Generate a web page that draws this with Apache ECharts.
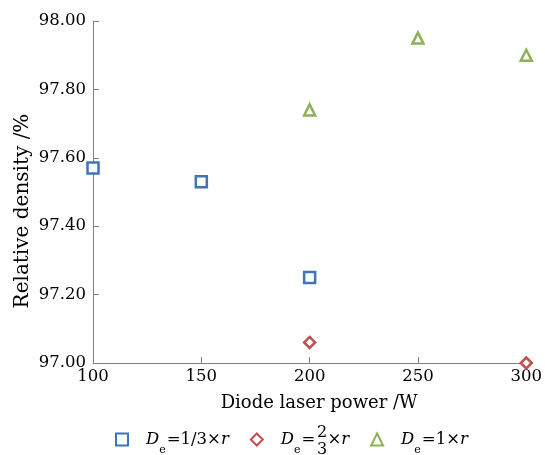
<!DOCTYPE html>
<html><head><meta charset="utf-8">
<script src="https://cdn.jsdelivr.net/npm/echarts@6/dist/echarts.min.js"></script>
<style>html,body{margin:0;padding:0;background:#fff}#c{width:545px;height:455px}</style>
</head><body><div id="c"></div>
<script>
// ---- data ----
const xTicks = [100, 150, 200, 250, 300];
const yTicks = [97.00, 97.20, 97.40, 97.60, 97.80, 98.00];
const seriesNames = ['De=1/3×r', 'De=2/3×r', 'De=1×r'];
const third = [[100, 97.57], [150, 97.53], [200, 97.25]];
const twoThird = [[200, 97.06], [300, 97.00]];
const one = [[200, 97.74], [250, 97.95], [300, 97.90]];
const xName = 'Diode laser power /W';
const yName = 'Relative density /%';
const fracNum = '2', fracDen = '3';

const colors = ['#3f74b9', '#c0504d', '#8cb157'];
const serif = 'DejaVu Serif';
const ink = '#000';
const legendRich = {
  i: {fontFamily: serif, fontStyle: 'italic', fontSize: 16.5, color: ink, lineHeight: 32, verticalAlign: 'middle'},
  n: {fontFamily: serif, fontSize: 16.5, color: ink, lineHeight: 32, verticalAlign: 'middle'},
  sub: {fontFamily: serif, fontSize: 11, color: ink, lineHeight: 32, verticalAlign: 'bottom', padding: [0, 1, 0, 0]},
  gap: {fontFamily: serif, fontSize: 16.5, lineHeight: 32, width: 12}
};
const legendText = {
  'De=1/3×r': '{i|D}{sub|e}{n|=1/3×}{i|r}',
  'De=2/3×r': '{i|D}{sub|e}{n|=}{gap| }{n|×}{i|r}',
  'De=1×r': '{i|D}{sub|e}{n|=1×}{i|r}'
};
const symbols = ['rect', 'diamond', 'triangle'];
const datas = [third, twoThird, one];

const chart = echarts.init(document.getElementById('c'), null, {renderer: 'canvas'});
chart.setOption({
  animation: false,
  backgroundColor: '#fff',
  grid: {left: 93, right: 17, top: 21, bottom: 92, containLabel: false},
  xAxis: {
    type: 'value', min: xTicks[0], max: xTicks[xTicks.length - 1], interval: 50,
    name: xName, nameLocation: 'middle', nameGap: 31, nameMoveOverlap: false,
    nameTextStyle: {fontFamily: serif, fontSize: 18, color: ink, padding: [0, 0, 0, 19]},
    axisLine: {show: true, lineStyle: {color: '#808080', width: 1}},
    axisTick: {show: true, inside: true, length: 6, lineStyle: {color: '#808080'}},
    axisLabel: {fontFamily: serif, fontSize: 16.5, color: ink, margin: 5},
    splitLine: {show: false}
  },
  yAxis: {
    type: 'value', min: yTicks[0], max: yTicks[yTicks.length - 1], interval: 0.2,
    name: yName, nameLocation: 'middle', nameGap: 60, nameRotate: 90, nameMoveOverlap: false,
    nameTextStyle: {fontFamily: serif, fontSize: 20, color: ink, padding: [0, 38, 0, 0]},
    axisLine: {show: true, lineStyle: {color: '#808080', width: 1}},
    axisTick: {show: true, inside: true, length: 6, lineStyle: {color: '#808080'}},
    axisLabel: {fontFamily: serif, fontSize: 16.5, color: ink, margin: 7, formatter: v => v.toFixed(2)},
    splitLine: {show: false}
  },
  legend: {
    top: 431, left: 115, padding: 0, itemWidth: 12, itemHeight: 12, itemGap: 21,
    data: seriesNames,
    formatter: n => legendText[n],
    textStyle: {rich: legendRich, padding: [0, 0, 0, 13]}
  },
  graphic: [
    {type: 'text', left: 317, top: 425, style: {text: fracNum, fontFamily: serif, fontSize: 16, fill: ink}},
    {type: 'text', left: 317, top: 442, style: {text: fracDen, fontFamily: serif, fontSize: 16, fill: ink}}
  ],
  series: seriesNames.map((nm, k) => ({
    name: nm, type: 'scatter', data: datas[k], symbol: symbols[k], symbolSize: 11,
    itemStyle: {color: '#fff', borderColor: colors[k], borderWidth: 2.5, opacity: 1}
  }))
});
</script></body></html>
